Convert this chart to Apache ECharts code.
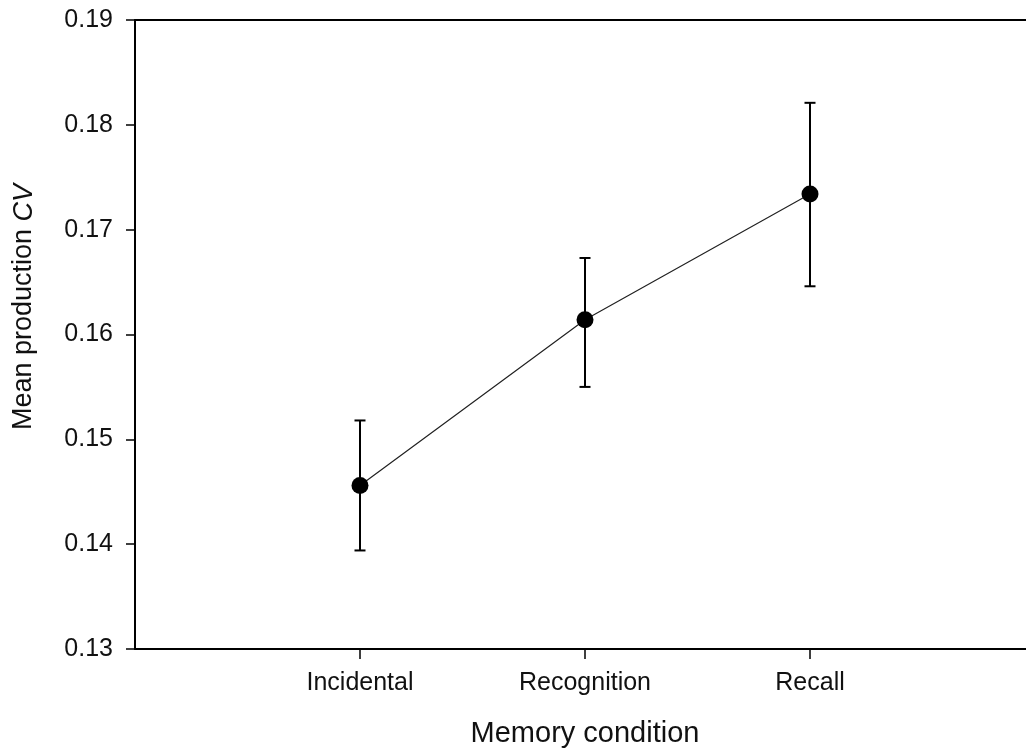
<!DOCTYPE html>
<html>
<head>
<meta charset="utf-8">
<script src="https://cdn.jsdelivr.net/npm/echarts@6/dist/echarts.min.js"></script>
<style>html,body{margin:0;padding:0;background:#fff;}#c{width:1026px;height:752px;}</style>
</head>
<body>
<div id="c"></div>
<script>
const categories = ['Incidental', 'Recognition', 'Recall'];
const categoryPos = [1, 2, 3];
const meanCV = [0.1456, 0.1614, 0.1734];
const errLow = [0.1394, 0.1550, 0.1646];
const errHigh = [0.1518, 0.1673, 0.1821];
const yTicks = [0.13, 0.14, 0.15, 0.16, 0.17, 0.18, 0.19];

const FONT = 'Liberation Sans';
const chart = echarts.init(document.getElementById('c'));

const lineData = categoryPos.map((x, i) => [x, meanCV[i]]);
const errData = categoryPos.map((x, i) => [x, errLow[i], errHigh[i]]);

chart.setOption({
  animation: false,
  backgroundColor: '#fff',
  grid: { left: 135, top: 20, right: -9, bottom: 103, containLabel: false, outerBoundsMode: 'none' },
  xAxis: [{
    type: 'value', min: 0, max: 4, interval: 1, position: 'bottom',
    axisLine: { show: true, onZero: false, lineStyle: { color: '#000', width: 2 } },
    axisTick: { show: true, inside: false, length: 10, customValues: categoryPos, lineStyle: { color: '#000', width: 1.5 } },
    axisLabel: { customValues: categoryPos, formatter: v => categories[categoryPos.indexOf(v)] || '', color: '#111', fontFamily: FONT, fontSize: 25, margin: 22 },
    splitLine: { show: false },
    name: 'Memory condition', nameLocation: 'middle', nameGap: 70,
    nameTextStyle: { color: '#111', fontFamily: FONT, fontSize: 29 }
  }, {
    type: 'value', min: 0, max: 4, position: 'top',
    axisLine: { show: true, onZero: false, lineStyle: { color: '#000', width: 2 } },
    axisTick: { show: false }, axisLabel: { show: false }, splitLine: { show: false }
  }],
  yAxis: {
    type: 'value', min: yTicks[0], max: yTicks[yTicks.length - 1], interval: 0.01,
    axisLine: { show: true, onZero: false, lineStyle: { color: '#000', width: 2 } },
    axisTick: { show: true, inside: false, length: 9, lineStyle: { color: '#000', width: 1.5 } },
    axisLabel: { formatter: v => v.toFixed(2), color: '#111', fontFamily: FONT, fontSize: 25, margin: 22 },
    splitLine: { show: false }
  },
  graphic: [{
    type: 'text', x: 24, y: 307, rotation: Math.PI / 2,
    style: {
      text: 'Mean production {i|CV}', fill: '#111', font: '27px "' + FONT + '"',
      align: 'center', verticalAlign: 'middle',
      rich: { i: { fontStyle: 'italic', fontSize: 27, fontFamily: FONT, fill: '#111' } }
    }
  }],
  series: [{
    type: 'custom',
    xAxisIndex: 0,
    renderItem: (params, api) => {
      const x = api.value(0);
      const lo = api.coord([x, api.value(1)]);
      const hi = api.coord([x, api.value(2)]);
      const w = 5.5;
      const st = { stroke: '#000', lineWidth: 2 };
      return { type: 'group', children: [
        { type: 'line', shape: { x1: lo[0], y1: lo[1], x2: hi[0], y2: hi[1] }, style: st },
        { type: 'line', shape: { x1: lo[0] - w, y1: lo[1], x2: lo[0] + w, y2: lo[1] }, style: st },
        { type: 'line', shape: { x1: hi[0] - w, y1: hi[1], x2: hi[0] + w, y2: hi[1] }, style: st }
      ]};
    },
    data: errData, z: 2
  }, {
    type: 'line', xAxisIndex: 0, data: lineData,
    symbol: 'circle', symbolSize: 17,
    lineStyle: { color: '#222', width: 1.2 },
    itemStyle: { color: '#000' }, z: 3
  }]
});
</script>
</body>
</html>
